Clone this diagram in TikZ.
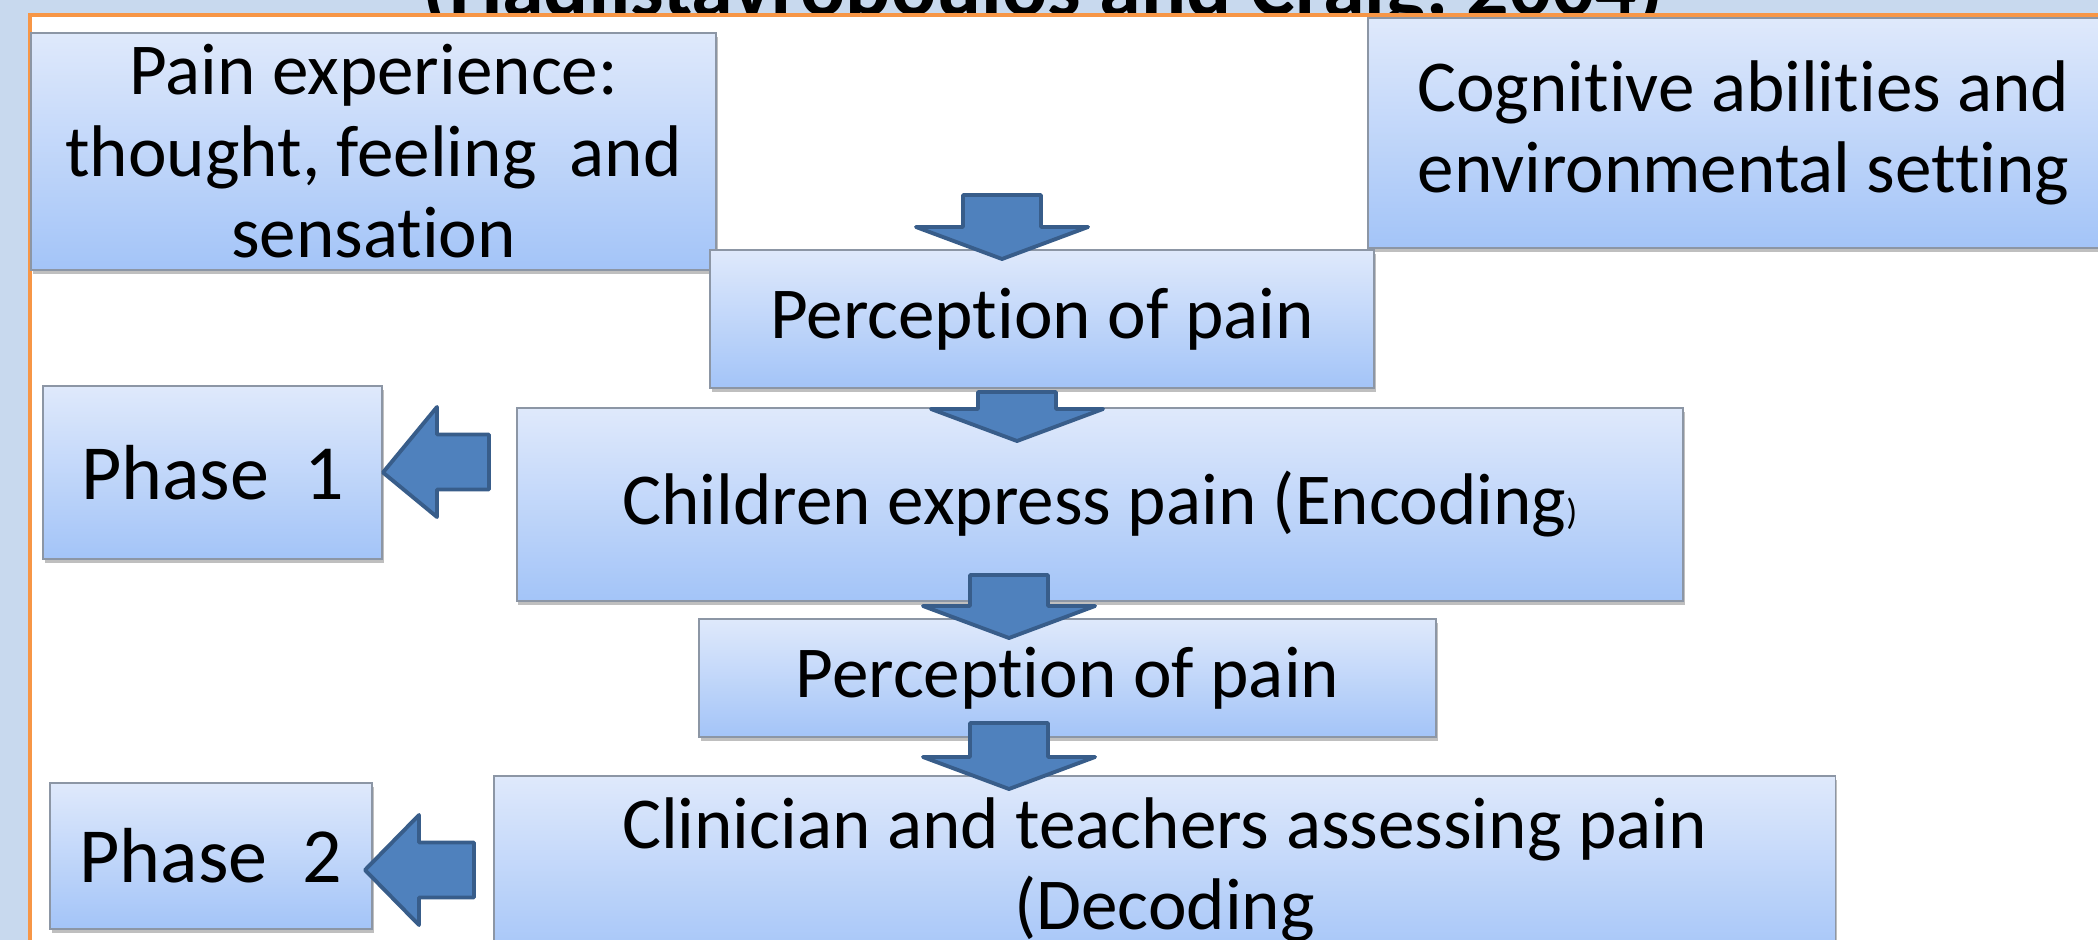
\documentclass[tikz,border=0pt]{standalone}
\usepackage{fontspec}
\setmainfont{Carlito}[Ligatures=NoCommon, RawFeature=-liga]
\usepackage{xcolor}
\usepackage{tikz}
\usetikzlibrary{calc,shadows}

\definecolor{slidebg}{RGB}{200,217,238}
\definecolor{frameorange}{RGB}{247,150,70}
\definecolor{boxtop}{RGB}{223,233,251}
\definecolor{boxbottom}{RGB}{163,196,248}
\definecolor{boxline}{RGB}{140,150,165}
\definecolor{arrowfill}{RGB}{79,129,189}
\definecolor{arrowline}{RGB}{56,93,138}

\begin{document}
\begin{tikzpicture}[
    x=0.01cm, y=-0.01cm,
    box/.style={draw=boxline, line width=0.5pt, top color=boxtop, bottom color=boxbottom, align=center, inner sep=1pt, font=\fontsize{20.8}{23.2}\selectfont, drop shadow={shadow xshift=0.5pt, shadow yshift=-1.2pt, opacity=0.25, fill=black}},
    phasebox/.style={box, font=\fontsize{22.2}{24}\selectfont},
    fatarrow/.style={fill=arrowfill, draw=arrowline, line width=1.1pt, line join=round},
    fatdown/.style={fatarrow, to path={let \p1=(\tikztostart), \p2=(\tikztotarget) in
        (\x1-0.39cm,\y1) -- (\x1+0.39cm,\y1) -- (\x1+0.39cm,\y2+0.32cm) -- (\x1+0.86cm,\y2+0.32cm)
        -- (\x2,\y2) -- (\x1-0.86cm,\y2+0.32cm) -- (\x1-0.39cm,\y2+0.32cm) -- cycle}},
    fatleft/.style={fatarrow, to path={let \p1=(\tikztostart), \p2=(\tikztotarget) in
        (\x1,\y1-0.275cm) -- (\x1,\y1+0.275cm) -- (\x2+0.54cm,\y1+0.275cm) -- (\x2+0.54cm,\y1+0.55cm)
        -- (\x2,\y2) -- (\x2+0.54cm,\y1-0.55cm) -- (\x2+0.54cm,\y1-0.275cm) -- cycle}}
]
    \useasboundingbox (0,0) rectangle (2098,940);
    \clip (0,0) rectangle (2098,940);
    \fill[slidebg] (0,0) rectangle (2098,940);
    \node[font=\bfseries\fontsize{23.9}{26}\selectfont, anchor=base, inner sep=0pt] (title) at (1043,16) {(Hadjistavropoulos and Craig, 2004)};
    \draw[frameorange, line width=1.4pt, fill=white] (30,15) rectangle (2200,1000);

    \node[box, minimum width=6.85cm, minimum height=2.37cm] (exp) at (373.5,151.5) {Pain experience:\\thought, feeling\ \ and\\sensation};
    \node[box, minimum width=7.51cm, minimum height=2.30cm] (cog) at (1743.5,133) {Cognitive abilities and\\environmental setting};
    \node[box, minimum width=6.64cm, minimum height=1.38cm] (percA) at (1042,319) {Perception of pain};
    \node[phasebox, minimum width=3.39cm, minimum height=1.73cm] (phaseA) at (212.5,472.5) {Phase\ \ 1};
    \node[box, minimum width=11.66cm, minimum height=1.93cm] (encode) at (1100,504.5) {Children express pain (Encoding{\fontsize{10.3}{12}\selectfont)}};
    \node[box, minimum width=7.37cm, minimum height=1.18cm] (percB) at (1067.5,678) {Perception of pain};
    \node[phasebox, minimum width=3.22cm, minimum height=1.46cm] (phaseB) at (211,856) {Phase\ \ 2};
    \node[box, minimum width=13.41cm, minimum height=1.88cm] (decode) at (1164.5,870) {Clinician and teachers assessing pain\\(Decoding};

    \coordinate (d1s) at (1002,195);  \coordinate (d1e) at (1002,259);
    \coordinate (d2s) at (1017,392);  \coordinate (d2e) at (1017,441);
    \coordinate (d3s) at (1009,575);  \coordinate (d3e) at (1009,638);
    \coordinate (d4s) at (1009,723);  \coordinate (d4e) at (1009,789);
    \coordinate (l1s) at (489,462);   \coordinate (l1e) at (phaseA.east);
    \coordinate (l2s) at (474,870);   \coordinate (l2e) at (365,870);

    \draw[fatdown] (d1s) to (d1e);
    \draw[fatdown] (d2s) to (d2e);
    \draw[fatdown] (d3s) to (d3e);
    \draw[fatdown] (d4s) to (d4e);
    \draw[fatleft] (l1s) to (l1e);
    \draw[fatleft] (l2s) to (l2e);
\end{tikzpicture}
\end{document}
